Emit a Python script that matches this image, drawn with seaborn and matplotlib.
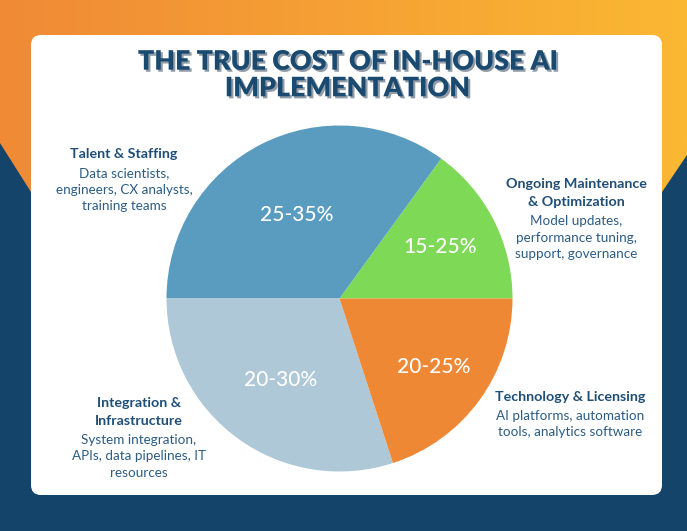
import numpy as np
import matplotlib
matplotlib.use("Agg")
import matplotlib.pyplot as plt
import matplotlib.patheffects as pe
from matplotlib.patches import FancyBboxPatch, Polygon
import seaborn as sns

# data (slices drawn counterclockwise from 3 o'clock)
categories = ["Ongoing Maintenance\n& Optimization", "Talent & Staffing",
              "Integration &\nInfrastructure", "Technology & Licensing"]
shares = [15, 35, 30, 20]
range_labels = ["15-25%", "25-35%", "20-30%", "20-25%"]
details = ["Model updates,\nperformance tuning,\nsupport, governance",
           "Data scientists,\nengineers, CX analysts,\ntraining teams",
           "System integration,\nAPIs, data pipelines, IT\nresources",
           "AI platforms, automation\ntools, analytics software"]
slice_colors = ["#7ED957", "#5A9CC0", "#AFC8D8", "#EF8834"]

sns.set_theme(style="white")
plt.rcParams['font.family'] = ['Lato', 'DejaVu Sans']

W, H = 687, 531
fig = plt.figure(figsize=(W / 100, H / 100), dpi=100)

# background in pixel coords
bg = fig.add_axes([0, 0, 1, 1])
bg.set_xlim(0, W)
bg.set_ylim(H, 0)
bg.axis("off")
bg.add_patch(plt.Rectangle((0, 0), W, H, color="#14446A", zorder=0))
grad = np.linspace(0, 1, 256).reshape(1, -1)
cmap = matplotlib.colors.LinearSegmentedColormap.from_list("bgo", ["#F08A36", "#FBB832"])
im = bg.imshow(grad, cmap=cmap, extent=(0, W, 0, H), aspect="auto", zorder=1)
clip = Polygon([(0, 0), (W, 0), (W, 155), (662, 192), (343, 320), (31, 192), (0, 143)],
               closed=True, transform=bg.transData, facecolor="none", edgecolor="none")
bg.add_patch(clip)
im.set_clip_path(clip)
bg.set_xlim(0, W)
bg.set_ylim(H, 0)

card = FancyBboxPatch((31, 35), 631, 460, boxstyle="round,pad=0,rounding_size=10",
                      facecolor="white", edgecolor="none", zorder=2)
bg.add_patch(card)

# title
bg.text(347, 75, "THE TRUE COST OF IN-HOUSE AI\nIMPLEMENTATION", ha="center", va="center",
        fontsize=19.3, fontweight="heavy", color="#1A4A70", linespacing=1.13, zorder=3,
        path_effects=[pe.SimplePatchShadow(offset=(1.5, -1.5), shadow_rgbFace="#7f8b98", alpha=0.85),
                      pe.Normal()])

# category labels, one text per line
head_color = "#1F4F77"
body_color = "#2C5C84"
label_pos = [(576, 184), (124, 154), (139, 403), (570, 397)]
for (x, y), cat, det in zip(label_pos, categories, details):
    yy = y
    for line in cat.split("\n"):
        bg.text(x, yy, line, ha="center", va="center", fontsize=10.3, fontweight="bold",
                color=head_color, zorder=3)
        yy += 18
    yy += 1
    for line in det.split("\n"):
        bg.text(x, yy, line, ha="center", va="center", fontsize=9.7,
                color=body_color, zorder=3)
        yy += 16.5

# pie
cx, cy, R = 339.5, 298.5, 173
pax = fig.add_axes([(cx - R) / W, (H - cy - R) / H, 2 * R / W, 2 * R / H])
wedges, _ = pax.pie(shares, colors=slice_colors, startangle=0, counterclock=True,
                    radius=1, wedgeprops=dict(linewidth=0))
pax.set_xlim(-1, 1)
pax.set_ylim(-1, 1)
pax.axis("off")

dists = [0.65, 0.54, 0.58, 0.67]
for w, lab, d in zip(wedges, range_labels, dists):
    ang = np.deg2rad((w.theta1 + w.theta2) / 2)
    pax.text(d * np.cos(ang), d * np.sin(ang), lab, ha="center", va="center",
             fontsize=15, color="white", fontweight="medium")

fig.savefig("out.png", dpi=100)
